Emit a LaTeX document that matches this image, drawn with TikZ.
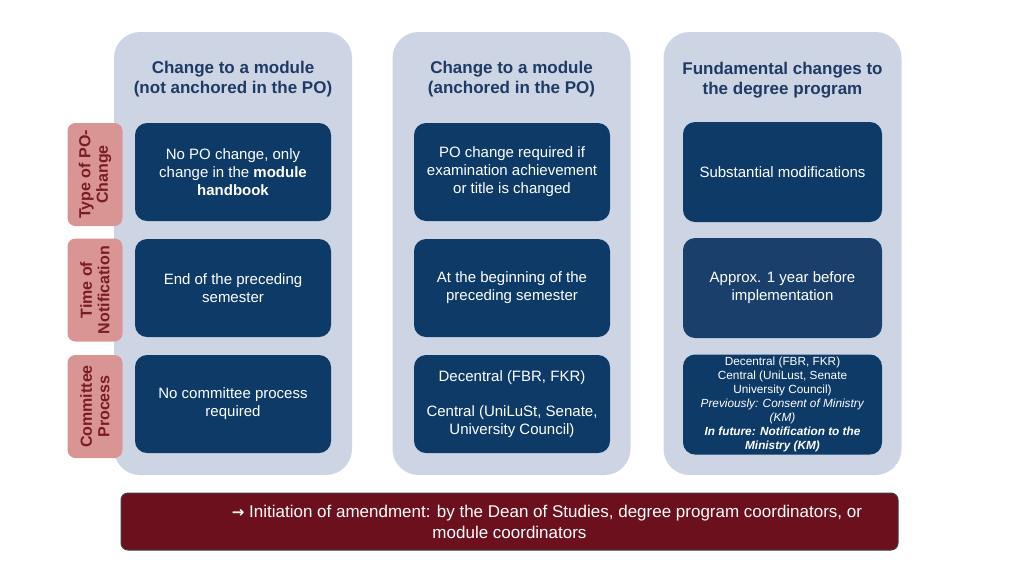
\documentclass[tikz,border=0pt]{standalone}
\usepackage{fontspec}
\setmainfont{Liberation Sans}
\newfontfamily\arrowfont{DejaVu Sans}
\begin{document}
\begin{tikzpicture}[x=1pt,y=-1pt]
\definecolor{panelc}{HTML}{CDD5E5}
\definecolor{navyc}{HTML}{0E3A67}
\definecolor{navyl}{HTML}{193F6A}
\definecolor{headc}{HTML}{1F3A64}
\definecolor{labfill}{HTML}{D99593}
\definecolor{labtext}{HTML}{7A1C22}
\definecolor{barc}{HTML}{6C101E}
\tikzset{
  panel/.style={rectangle, rounded corners=26pt, fill=panelc, minimum width=238pt, minimum height=443pt, inner sep=0pt},
  cell/.style={rectangle, rounded corners=12pt, fill=navyc, text=white, minimum width=196pt, minimum height=98pt, align=center, font=\fontsize{15}{18}\selectfont, inner sep=0pt},
  cellw/.style={cell, minimum width=199pt, minimum height=100pt},
  head/.style={text=headc, align=center, font=\bfseries\fontsize{17}{19.5}\selectfont},
  lab/.style={rectangle, rounded corners=8pt, fill=labfill, minimum width=103pt, minimum height=55pt, rotate=90, align=center, text=labtext, font=\bfseries\fontsize{16}{17.5}\selectfont, inner sep=0pt},
  bar/.style={rectangle, rounded corners=7pt, fill=barc, draw=black!75, line width=1pt, minimum width=777pt, minimum height=57pt, text=white, align=center, font=\fontsize{17}{21}\selectfont}
}
\useasboundingbox (0,0) rectangle (1024,576);
\fill[white] (0,0) rectangle (1024,576);
% panels
\node[panel] (p1) at (233,253.5) {};
\node[panel] (p2) at (511.5,253.5) {};
\node[panel] (p3) at (782.5,253.5) {};
% headers
\node[head] (h1) at (233,79) {Change to a module\\(not anchored in the PO)};
\node[head] (h2) at (511.5,79) {Change to a module\\(anchored in the PO)};
\node[head] (h3) at (782.5,80) {Fundamental changes to\\the degree program};
% labels
\node[lab] (l1) at (95,174.5) {Type of PO-\\Change};
\node[lab] (l2) at (95,290) {Time of\\Notification};
\node[lab] (l3) at (95,406.5) {Committee\\Process};
% column 1
\node[cell] (a1) at (233,172) {No PO change, only\\change in the \textbf{module}\\\textbf{handbook}};
\node[cell] (a2) at (233,288) {End of the preceding\\semester};
\node[cell] (a3) at (233,404) {No committee process\\required};
% column 2
\node[cell] (b1) at (512,172) {PO change required if\\examination achievement\\or title is changed};
\node[cell] (b2) at (512,288) {At the beginning of the\\preceding semester};
\node[cell] (b3) at (512,404) {Decentral (FBR, FKR)\\[17pt]Central (UniLuSt, Senate,\\University Council)};
% column 3
\node[cellw] (c1) at (782.5,172) {Substantial modifications};
\node[cellw, fill=navyl] (c2) at (782.5,288) {Approx. 1 year before\\implementation};
\node[cellw, font=\fontsize{11.8}{13.9}\selectfont] (c3) at (782.5,404.5) {Decentral (FBR, FKR)\\Central (UniLust, Senate\\University Council)\\\textit{Previously: Consent of Ministry}\\\textit{(KM)}\\\textbf{\textit{In future: Notification to the}}\\\textbf{\textit{Ministry (KM)}}};
% bottom bar
\node[bar] (bar) at (509.5,521.5) {\hspace*{75pt}{\arrowfont\bfseries\fontsize{15}{21}\selectfont →} Initiation of amendment: by the Dean of Studies, degree program coordinators, or\\module coordinators};
\end{tikzpicture}
\end{document}
